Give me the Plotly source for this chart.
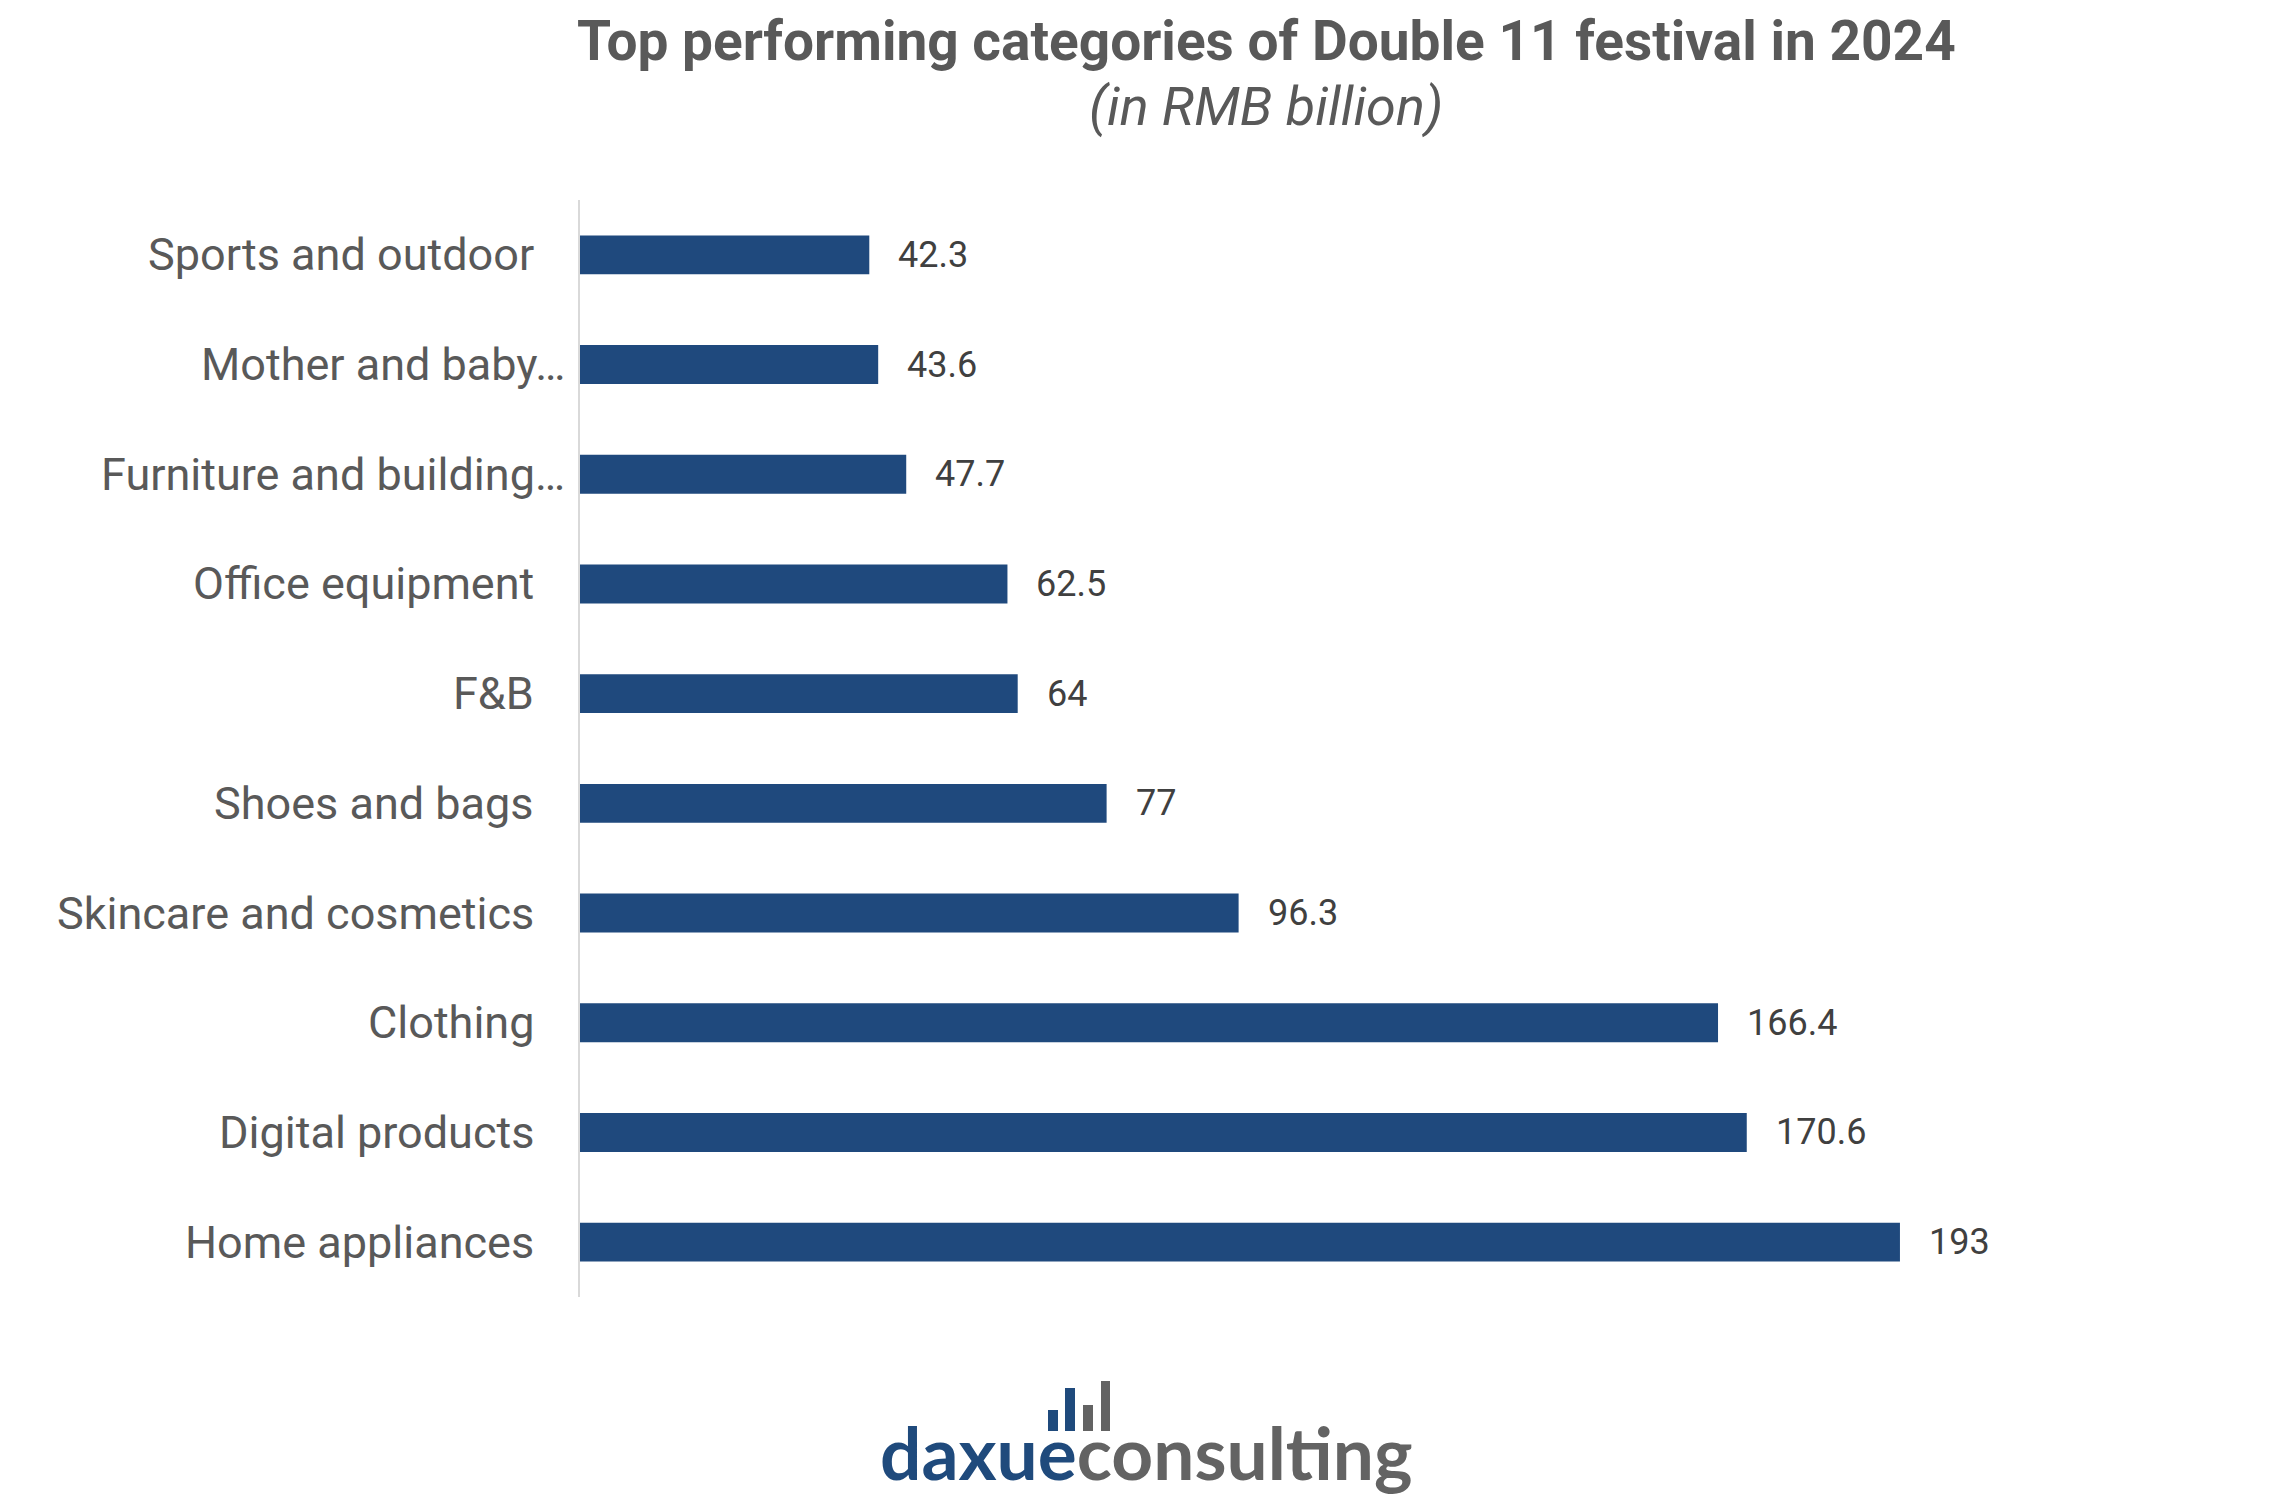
import plotly.graph_objects as go

# data, top to bottom as shown
categories = ["Sports and outdoor", "Mother and baby…", "Furniture and building…",
              "Office equipment", "F&B", "Shoes and bags", "Skincare and cosmetics",
              "Clothing", "Digital products", "Home appliances"]
values = [42.3, 43.6, 47.7, 62.5, 64, 77, 96.3, 166.4, 170.6, 193]
value_text = ["42.3", "43.6", "47.7", "62.5", "64", "77", "96.3", "166.4", "170.6", "193"]

bar_color = "#1f497d"
grey = "#595959"

# the page body has an 8px margin, so the figure is a bit smaller than the window
OFF = 8
W, H = 2291 - 2 * OFF, 1503 - 2 * OFF
L, T = 580 - OFF, 200 - OFF
R = W - (2153 - OFF)
B = H - (1297 - OFF)
plot_w = W - L - R
plot_h = H - T - B


def px(x):
    # page pixel -> paper x
    return (x - OFF - L) / plot_w


def py(y):
    # page pixel (from top) -> paper y
    return (H - B - (y - OFF)) / plot_h


fig = go.Figure()
fig.add_trace(go.Bar(
    x=values, y=categories, orientation="h",
    marker=dict(color=bar_color, line=dict(width=0)),
    hoverinfo="x+y",
))

annotations = []
# value labels right of the bars
for c, v, t in zip(categories, values, value_text):
    annotations.append(dict(x=v, y=c, xref="x", yref="y", text=t, showarrow=False,
                            xanchor="left", yanchor="middle", xshift=27,
                            font=dict(family="Roboto", size=36, color="#404040")))
# category labels (truncated ones sit closer to the axis, like excel does)
for c in categories:
    shift = -13 if c.endswith("…") else -44
    annotations.append(dict(x=0, y=c, xref="x", yref="y", text=c, showarrow=False,
                            xanchor="right", yanchor="middle", xshift=shift,
                            font=dict(family="Roboto", size=45, color=grey)))

# title
annotations.append(dict(x=px(1266), y=py(41), xref="paper", yref="paper",
                        text="<b>Top performing categories of Double 11 festival in 2024</b>",
                        showarrow=False, xanchor="center", yanchor="middle",
                        font=dict(family="Roboto", size=55, color=grey)))
annotations.append(dict(x=px(1266), y=py(107), xref="paper", yref="paper",
                        text="<i>(in RMB billion)</i>",
                        showarrow=False, xanchor="center", yanchor="middle",
                        font=dict(family="Roboto", size=54, color=grey)))

# logo text
annotations.append(dict(x=px(1146), y=py(1452), xref="paper", yref="paper",
                        text="<span style='color:#1f4a7c'><b>daxue</b></span><span style='color:#636363'><b>consulting</b></span>",
                        showarrow=False, xanchor="center", yanchor="middle",
                        font=dict(family="Lato", size=73)))

# logo icon bars
icon = [(1048, 1058, 1410, "#1f4a7c"), (1065, 1075, 1388, "#1f4a7c"),
        (1083, 1093, 1405, "#636363"), (1101, 1110, 1381, "#636363")]
shapes = []
for x0, x1, y0, col in icon:
    shapes.append(dict(type="rect", xref="paper", yref="paper",
                       x0=px(x0), x1=px(x1), y0=py(1431), y1=py(y0),
                       fillcolor=col, line=dict(width=0)))

fig.update_layout(
    width=W, height=H,
    margin=dict(l=L, r=R, t=T, b=B),
    paper_bgcolor="white", plot_bgcolor="white",
    bargap=0.645,
    showlegend=False,
    annotations=annotations,
    shapes=shapes,
)
fig.update_xaxes(range=[0, 230], visible=False, fixedrange=True)
fig.update_yaxes(autorange="reversed", showticklabels=False, ticks="",
                 showline=True, linecolor="#d9d9d9", linewidth=2,
                 showgrid=False, zeroline=False, fixedrange=True)

fig.write_html("out.html")
